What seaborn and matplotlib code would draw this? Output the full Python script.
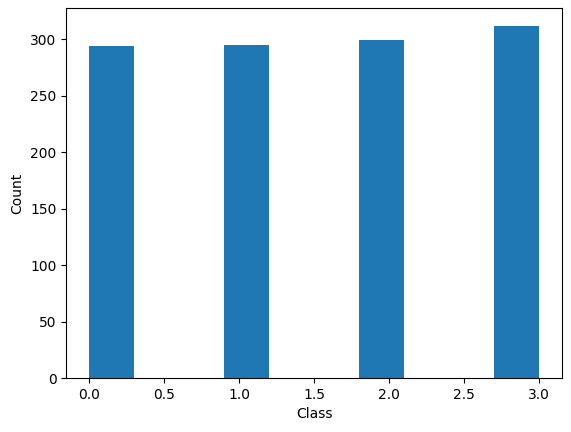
import matplotlib
matplotlib.use("Agg")
import matplotlib.pyplot as plt
import seaborn as sns

# number of samples per class
classes = [0, 1, 2, 3]
counts = [294, 295, 299, 312]

fig, ax = plt.subplots(figsize=(5.71, 4.32), dpi=100)
sns.histplot(x=classes, weights=counts, bins=10, binrange=(0, 3),
             color="#1f77b4", alpha=1, edgecolor="none", linewidth=0, ax=ax)
ax.set_xlabel("Class")
ax.set_ylabel("Count")
fig.subplots_adjust(left=0.116, right=0.984, top=0.981, bottom=0.125)
fig.savefig("out.png", dpi=100)
